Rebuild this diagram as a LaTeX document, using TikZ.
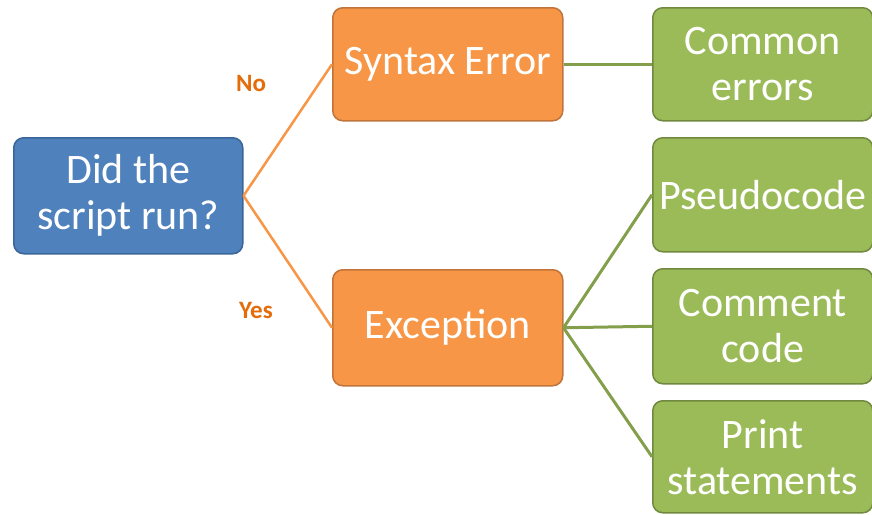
\documentclass[tikz,border=0pt]{standalone}
\usepackage{fontspec}
\setmainfont{Carlito}
\definecolor{bfill}{HTML}{4F81BD}
\definecolor{bdraw}{HTML}{3A6598}
\definecolor{ofill}{HTML}{F79646}
\definecolor{odraw}{HTML}{C0733A}
\definecolor{gfill}{HTML}{9BBB59}
\definecolor{gdraw}{HTML}{71893F}
\definecolor{lbl}{HTML}{E46C0A}
\begin{document}
\begin{tikzpicture}[x=1pt,y=-1pt,
  box/.style={rounded corners=10pt, line width=1.5pt, text=white, align=center,
    font=\fontsize{42}{46}\selectfont, inner sep=0pt, anchor=north west},
  bluebox/.style={box, fill=bfill, draw=bdraw},
  orangebox/.style={box, fill=ofill, draw=odraw},
  greenbox/.style={box, fill=gfill, draw=gdraw},
  oline/.style={draw=ofill, line width=2.5pt},
  gline/.style={draw=gfill!85!black, line width=3pt},
  lab/.style={text=lbl, font=\bfseries\fontsize{25}{27}\selectfont}]
\useasboundingbox (0,0) rectangle (872,514);
\node[bluebox, minimum width=229pt, minimum height=116pt] (q) at (13,137) {Did the\\script run?};
\node[orangebox, minimum width=230pt, minimum height=113pt] (se) at (332,7) {Syntax Error};
\node[orangebox, minimum width=230pt, minimum height=116pt] (ex) at (332,269) {Exception};
\node[greenbox, minimum width=220pt, minimum height=113pt] (ce) at (652,7) {Common\\errors};
\node[greenbox, minimum width=220pt, minimum height=114pt] (ps) at (652,137) {Pseudocode};
\node[greenbox, minimum width=220pt, minimum height=115pt] (cc) at (652,268) {Comment\\code};
\node[greenbox, minimum width=220pt, minimum height=112pt] (pr) at (652,400) {Print\\statements};
\draw[oline] (q.east) -- (se.west);
\draw[oline] (q.east) -- (ex.west);
\draw[gline] (se.east) -- (ce.west);
\draw[gline] (ex.east) -- (ps.west);
\draw[gline] (ex.east) -- (cc.west);
\draw[gline] (ex.east) -- (pr.west);
\node[lab] (no) at (251,83) {No};
\node[lab] (yes) at (256,310) {Yes};
\end{tikzpicture}
\end{document}
